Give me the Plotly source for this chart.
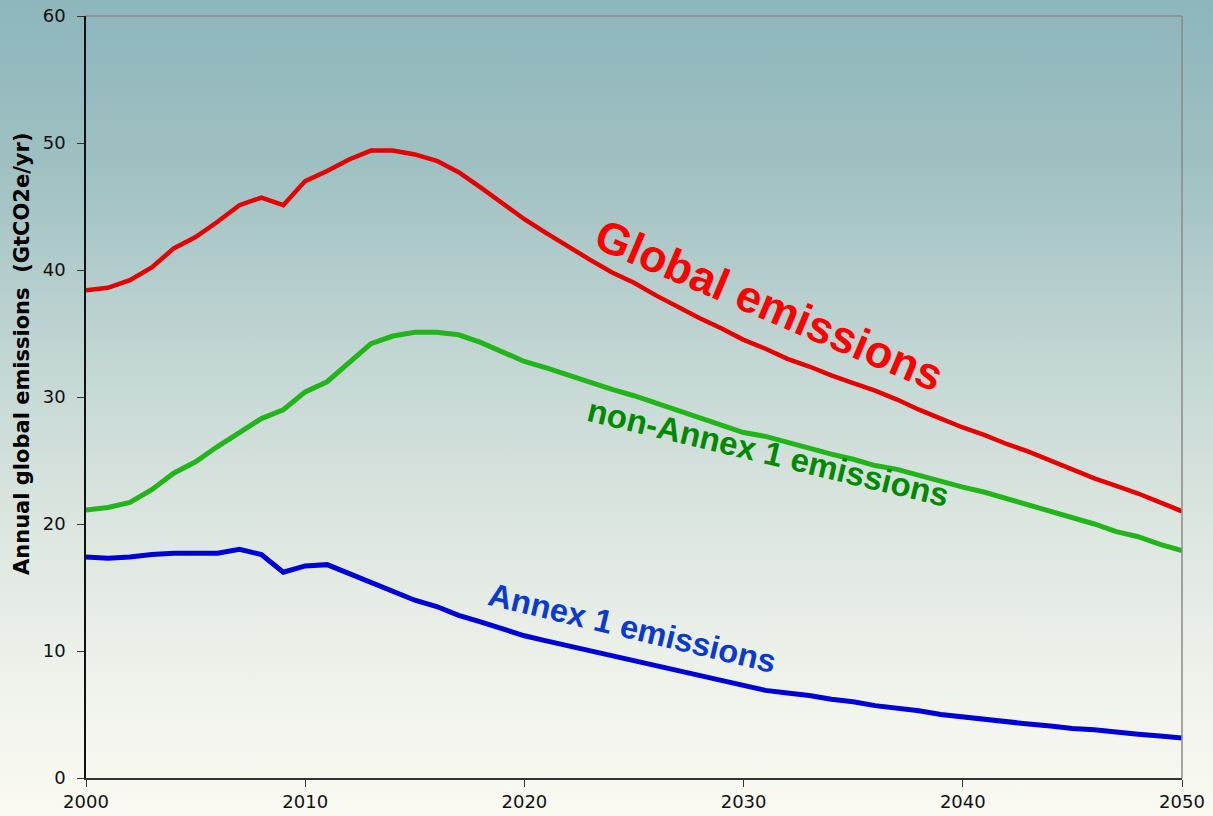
import base64
import plotly.graph_objects as go

# Annual emissions, GtCO2e per year
years = list(range(2000, 2051))

global_emissions = [
    38.4, 38.6, 39.2, 40.2, 41.7, 42.6, 43.8, 45.1, 45.7, 45.1,
    47.0, 47.8, 48.7, 49.4, 49.4, 49.1, 48.6, 47.7, 46.5, 45.2,
    44.0, 42.9, 41.8, 40.8, 39.8, 39.0, 38.0, 37.1, 36.2, 35.4,
    34.5, 33.8, 33.0, 32.4, 31.7, 31.1, 30.5, 29.8, 29.0, 28.3,
    27.6, 27.0, 26.3, 25.7, 25.0, 24.3, 23.6, 23.0, 22.4, 21.7,
    21.0,
]

non_annex1_emissions = [
    21.1, 21.3, 21.7, 22.7, 24.0, 24.9, 26.1, 27.2, 28.3, 29.0,
    30.4, 31.2, 32.7, 34.2, 34.8, 35.1, 35.1, 34.9, 34.3, 33.5,
    32.8, 32.3, 31.7, 31.2, 30.6, 30.1, 29.5, 29.0, 28.4, 27.8,
    27.2, 26.9, 26.4, 26.0, 25.5, 25.1, 24.6, 24.3, 23.8, 23.4,
    22.9, 22.5, 22.0, 21.6, 21.0, 20.5, 20.0, 19.4, 19.0, 18.4,
    17.9,
]

annex1_emissions = [
    17.4, 17.3, 17.4, 17.6, 17.7, 17.7, 17.7, 18.0, 17.6, 16.2,
    16.7, 16.8, 16.1, 15.4, 14.7, 14.0, 13.5, 12.8, 12.3, 11.7,
    11.2, 10.8, 10.4, 10.0, 9.6, 9.2, 8.8, 8.4, 8.0, 7.6,
    7.2, 6.9, 6.7, 6.5, 6.2, 6.0, 5.7, 5.5, 5.3, 5.0,
    4.8, 4.6, 4.4, 4.25, 4.1, 3.9, 3.8, 3.6, 3.45, 3.3,
    3.15,
]

x_ticks = [2000, 2010, 2020, 2030, 2040, 2050]
y_ticks = [0, 10, 20, 30, 40, 50, 60]

W, H = 1213, 816
ML, MR, MT, MB = 86, 31, 16, 38
PW, PH = W - ML - MR, H - MT - MB

# Vertical background gradient (teal-grey at top fading to off-white)
svg = f"""<svg xmlns='http://www.w3.org/2000/svg' width='{W}' height='{H}' preserveAspectRatio='none'>
<defs><linearGradient id='g' x1='0' y1='0' x2='0' y2='1'>
<stop offset='0' stop-color='#8db6bb'/>
<stop offset='0.2' stop-color='#9fc0c2'/>
<stop offset='0.45' stop-color='#c4d7d4'/>
<stop offset='0.65' stop-color='#dde6e0'/>
<stop offset='0.85' stop-color='#f0f3ec'/>
<stop offset='1' stop-color='#fafaf2'/>
</linearGradient></defs>
<rect width='{W}' height='{H}' fill='url(#g)'/></svg>"""
bg_src = "data:image/svg+xml;base64," + base64.b64encode(svg.encode()).decode()

fig = go.Figure()

fig.add_trace(go.Scatter(x=years, y=global_emissions, mode="lines",
                         line=dict(color="#e60000", width=4.5), hoverinfo="x+y"))
fig.add_trace(go.Scatter(x=years, y=non_annex1_emissions, mode="lines",
                         line=dict(color="#22b51a", width=5), hoverinfo="x+y"))
fig.add_trace(go.Scatter(x=years, y=annex1_emissions, mode="lines",
                         line=dict(color="#0000d8", width=5), hoverinfo="x+y"))

fig.add_annotation(x=2031.2, y=37.2, text="<b>Global emissions</b>", showarrow=False,
                   textangle=23, font=dict(family="Liberation Sans, Arial", size=45, color="#ff0000"))
fig.add_annotation(x=2031.1, y=25.6, text="<b>non-Annex 1 emissions</b>", showarrow=False,
                   textangle=13.5, font=dict(family="Liberation Sans, Arial", size=33, color="#008a00"))
fig.add_annotation(x=2024.9, y=11.8, text="<b>Annex 1 emissions</b>", showarrow=False,
                   textangle=13.5, font=dict(family="Liberation Sans, Arial", size=32.5, color="#0a3ad0"))

# Y-axis title, placed as rotated text in the left margin
fig.add_annotation(xref="paper", yref="paper", x=(22 - ML) / PW, y=(H - MB - 354) / PH,
                   text="<b>Annual global emissions  (GtCO2e/yr)</b>", showarrow=False,
                   textangle=-90, xanchor="center", yanchor="middle",
                   font=dict(family="DejaVu Sans, Verdana", size=21, color="#000000"))

# Grey frame on the top and right edges of the plot area
frame = dict(color="#8a8a8a", width=1.5)
fig.add_shape(type="line", xref="paper", yref="paper", x0=0, x1=1, y0=1, y1=1, line=frame)
fig.add_shape(type="line", xref="paper", yref="paper", x0=1, x1=1, y0=0, y1=1, line=frame)

fig.update_layout(
    width=W, height=H,
    margin=dict(l=ML, r=MR, t=MT, b=MB, pad=0, autoexpand=False),
    paper_bgcolor="rgba(0,0,0,0)",
    plot_bgcolor="rgba(0,0,0,0)",
    showlegend=False,
    font=dict(family="DejaVu Sans, Verdana", size=18, color="#111111"),
    images=[dict(source=bg_src, xref="paper", yref="paper",
                 x=-ML / PW, y=1 + MT / PH, sizex=W / PW, sizey=H / PH,
                 xanchor="left", yanchor="top", sizing="stretch", layer="below")],
    xaxis=dict(
        range=[2000, 2050], tickvals=x_ticks, ticktext=[str(v) for v in x_ticks],
        showgrid=False, zeroline=False, showline=True, linecolor="#333333", linewidth=1.5,
        ticks="outside", ticklen=7, tickwidth=1.2, tickcolor="#333333",
        ticklabelstandoff=0, automargin=False,
        tickfont=dict(size=18, color="#111111"),
    ),
    yaxis=dict(
        range=[0, 60], tickvals=y_ticks, ticktext=[str(v) for v in y_ticks],
        showgrid=False, zeroline=False, showline=True, linecolor="#111111", linewidth=1.5,
        ticks="outside", ticklen=7, tickwidth=1.2, tickcolor="#333333",
        ticklabelstandoff=8, automargin=False,
        tickfont=dict(size=18, color="#111111"),
    ),
)

fig.write_html("out.html")
